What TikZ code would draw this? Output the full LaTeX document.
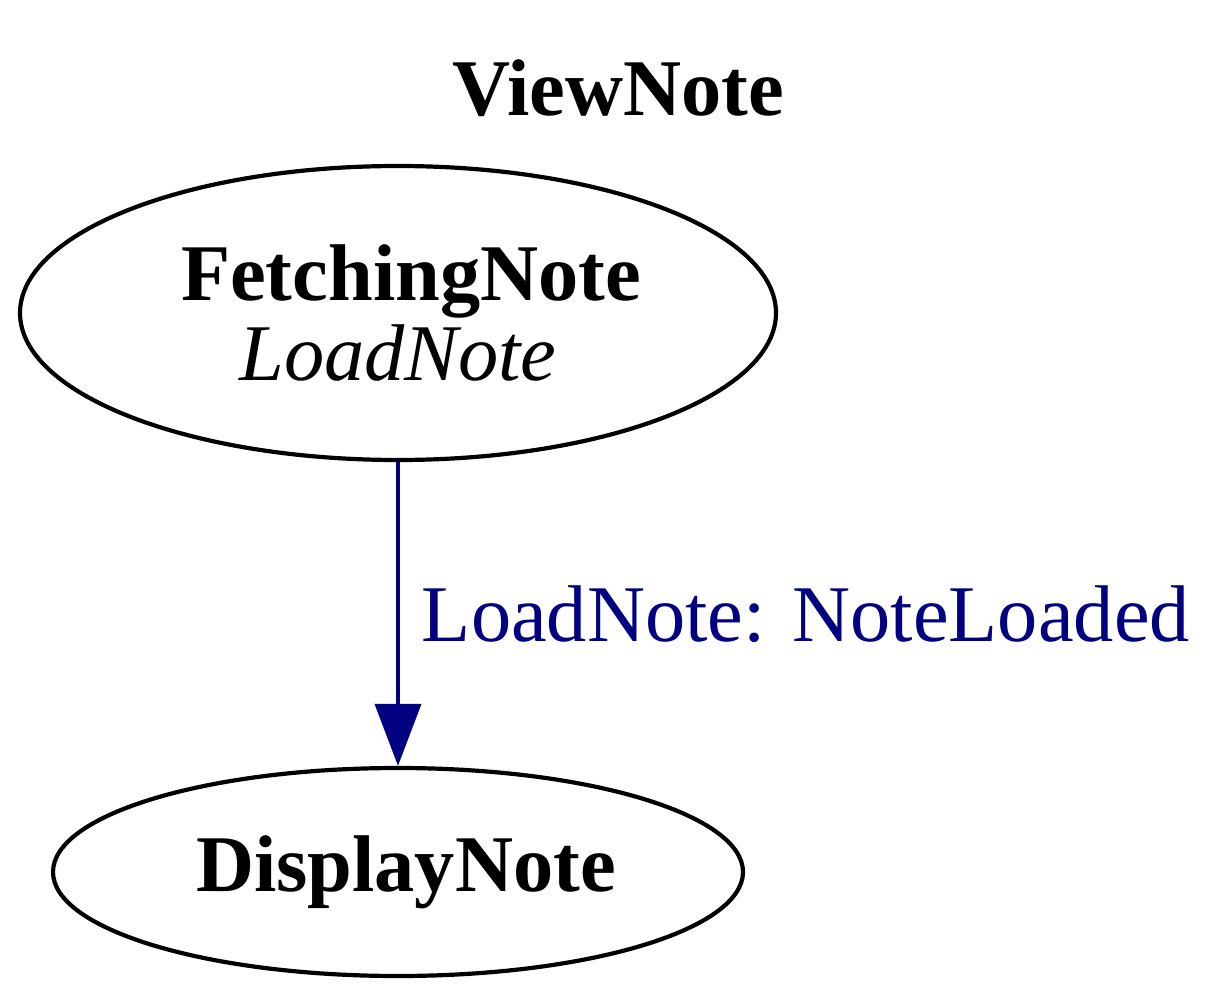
\documentclass[tikz,border=0pt]{standalone}
\usepackage{fontspec}
\setmainfont{Liberation Serif}
\usetikzlibrary{shapes.geometric,arrows.meta}
\definecolor{navyblue}{RGB}{0,0,128}
\tikzset{
  statenode/.style={draw, ellipse, line width=2.1pt, inner sep=0pt, align=center},
  bigtext/.style={font=\fontsize{40.2}{40}\selectfont},
  transition/.style={navyblue, line width=1.9pt, -{Triangle[length=31pt,width=23pt]}}
}
\begin{document}
\begin{tikzpicture}[x=0.5pt,y=-0.5pt]
  \useasboundingbox (0,0) rectangle (1231,1000);
  \node [bigtext, font=\fontsize{40.2}{40}\selectfont\bfseries] (title) at (618,88) {ViewNote};
  \node [statenode, bigtext, minimum width=378pt, minimum height=147pt] (fetching) at (398,313)
    {\hspace{13pt}\textbf{FetchingNote}\\\textit{LoadNote}};
  \node [statenode, bigtext, minimum width=345pt, minimum height=104pt,
    font=\fontsize{40.2}{40}\selectfont\bfseries] (display) at (398,872) {\hspace{8pt}DisplayNote};
  \draw [transition] (fetching) -- (display)
    node [midway, right=11pt, inner sep=0pt, bigtext] (label) {LoadNote: NoteLoaded};
\end{tikzpicture}
\end{document}
